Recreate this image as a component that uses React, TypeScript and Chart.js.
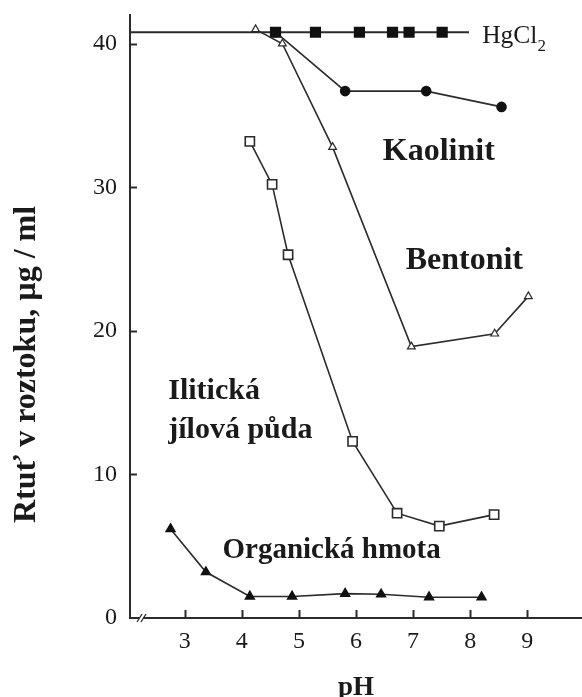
import React, { useEffect, useRef } from "react";
import { Chart, registerables } from "chart.js";

Chart.register(...registerables);

// ---------- data ----------
const xTickValues = [3, 4, 5, 6, 7, 8, 9];
const yTickValues = [0, 10, 20, 30, 40];

const hgPH = [2.04, 4.59, 5.29, 6.06, 6.64, 6.93, 7.51, 7.98];
const hgVal = [40.8, 40.8, 40.8, 40.8, 40.8, 40.8, 40.8, 40.8];

const kaolinitPH = [4.59, 5.81, 7.23, 8.55];
const kaolinitVal = [40.8, 36.7, 36.7, 35.6];

const bentonitPH = [4.24, 4.71, 5.59, 6.97, 8.43, 9.02];
const bentonitVal = [41.0, 40.0, 32.8, 18.9, 19.8, 22.4];

const iliticPH = [4.14, 4.53, 4.81, 5.94, 6.72, 7.46, 8.42];
const iliticVal = [33.2, 30.2, 25.3, 12.3, 7.3, 6.4, 7.2];

const organicPH = [2.75, 3.37, 4.14, 4.88, 5.81, 6.44, 7.28, 8.2];
const organicVal = [6.2, 3.2, 1.5, 1.5, 1.7, 1.65, 1.45, 1.45];

const xTitle = "pH";
const yTitle = "Rtuť v roztoku, µg / ml";

// series labels (text + anchor in data coordinates)
const seriesLabels = [
  { text: "Kaolinit", x: 6.47, y: 31.9, size: 32 },
  { text: "Bentonit", x: 6.87, y: 24.28, size: 32 },
  { text: "Ilitická", x: 2.71, y: 15.25, size: 30 },
  { text: "jílová půda", x: 2.71, y: 12.53, size: 30 },
  { text: "Organická hmota", x: 3.66, y: 4.18, size: 29 },
];
const hgLabel = { text: "HgCl", sub: "2", x: 8.21, y: 40.04 };

const SERIF = "'Liberation Serif', 'Times New Roman', serif";
const INK = "#1a1a1a";
const LINE = "#2b2b2b";

const zip = (xs: number[], ys: number[]) => xs.map((v, i) => ({ x: v, y: ys[i] }));

const overlay = {
  id: "overlay",
  afterDraw(chart: any) {
    const { ctx, chartArea, scales } = chart;
    const xs = scales.x;
    const ys = scales.y;
    ctx.save();
    ctx.strokeStyle = LINE;
    ctx.lineWidth = 2;
    // inward ticks
    xTickValues.forEach((v) => {
      const px = Math.round(xs.getPixelForValue(v)) + 0.5;
      ctx.beginPath();
      ctx.moveTo(px, chartArea.bottom);
      ctx.lineTo(px, chartArea.bottom - 8);
      ctx.stroke();
    });
    yTickValues.forEach((v) => {
      if (v === 0) return;
      const py = Math.round(ys.getPixelForValue(v)) + 0.5;
      ctx.beginPath();
      ctx.moveTo(chartArea.left, py);
      ctx.lineTo(chartArea.left + 7, py);
      ctx.stroke();
    });
    // axis break mark
    const bx = chartArea.left + 7;
    const by = chartArea.bottom;
    ctx.fillStyle = "#fff";
    ctx.fillRect(bx + 2, by - 2, 4, 4);
    ctx.lineWidth = 1.3;
    ctx.beginPath();
    ctx.moveTo(bx, by + 4);
    ctx.lineTo(bx + 5, by - 4);
    ctx.moveTo(bx + 4, by + 4);
    ctx.lineTo(bx + 9, by - 4);
    ctx.stroke();

    // series labels
    ctx.fillStyle = INK;
    ctx.textBaseline = "alphabetic";
    ctx.textAlign = "left";
    seriesLabels.forEach((l) => {
      ctx.font = `bold ${l.size}px ${SERIF}`;
      ctx.fillText(l.text, xs.getPixelForValue(l.x), ys.getPixelForValue(l.y));
    });
    // HgCl2
    const hx = xs.getPixelForValue(hgLabel.x);
    const hy = ys.getPixelForValue(hgLabel.y);
    ctx.font = `25.5px ${SERIF}`;
    ctx.fillText(hgLabel.text, hx, hy);
    const w = ctx.measureText(hgLabel.text).width;
    ctx.font = `17px ${SERIF}`;
    ctx.fillText(hgLabel.sub, hx + w, hy + 8);

    // y axis title
    ctx.translate(35, (chartArea.top + chartArea.bottom) / 2 + 48);
    ctx.rotate(-Math.PI / 2);
    ctx.textAlign = "center";
    ctx.font = `bold 32px ${SERIF}`;
    ctx.fillText(yTitle, 0, 0);
    ctx.restore();
  },
};

export default function App() {
  const ref = useRef<HTMLCanvasElement>(null);
  useEffect(() => {
    if (!ref.current) return;
    const common = {
      borderColor: LINE,
      borderWidth: 1.6,
      showLine: true,
      tension: 0,
    };
    const chart = new Chart(ref.current, {
      type: "scatter",
      data: {
        datasets: [
          {
            ...common,
            label: "HgCl2",
            data: zip(hgPH, hgVal),
            borderWidth: 2,
            pointStyle: "rect",
            pointRadius: (c: any) =>
              c.dataIndex === 0 || c.dataIndex === hgPH.length - 1 ? 0 : 6.5,
            backgroundColor: "#111",
            pointBorderColor: "#111",
            pointBackgroundColor: "#111",
          },
          {
            ...common,
            label: "Kaolinit",
            data: zip(kaolinitPH, kaolinitVal),
            pointStyle: "circle",
            pointRadius: 4.5,
            pointBackgroundColor: "#111",
            pointBorderColor: "#111",
          },
          {
            ...common,
            label: "Bentonit",
            data: zip(bentonitPH, bentonitVal),
            pointStyle: "triangle",
            pointRadius: 4.5,
            pointBorderWidth: 1.2,
            pointBackgroundColor: "#fff",
            pointBorderColor: LINE,
          },
          {
            ...common,
            label: "Ilitická jílová půda",
            data: zip(iliticPH, iliticVal),
            pointStyle: "rect",
            pointRadius: 6.5,
            pointBorderWidth: 1.6,
            pointBackgroundColor: "#fff",
            pointBorderColor: LINE,
          },
          {
            ...common,
            label: "Organická hmota",
            data: zip(organicPH, organicVal),
            pointStyle: "triangle",
            pointRadius: 5,
            pointBackgroundColor: "#111",
            pointBorderColor: "#111",
          },
        ],
      },
      options: {
        animation: false,
        responsive: false,
        maintainAspectRatio: false,
        layout: { autoPadding: false, padding: { top: 15, right: 0, left: 0, bottom: 0 } },
        plugins: {
          legend: { display: false },
          tooltip: { enabled: false },
        },
        scales: {
          x: {
            type: "linear",
            min: 2.04,
            max: 9.96,
            afterBuildTicks: (s: any) => {
              s.ticks = xTickValues.map((v) => ({ value: v }));
            },
            afterFit: (s: any) => {
              s.height = 79;
              s.paddingLeft = 0;
              s.paddingRight = 0;
            },
            grid: { display: false, drawTicks: false },
            border: { display: true, color: LINE, width: 2 },
            ticks: {
              padding: 9,
              color: INK,
              font: { family: SERIF, size: 24 },
              autoSkip: false,
              maxRotation: 0,
            },
            title: {
              display: true,
              text: xTitle,
              color: INK,
              font: { family: SERIF, size: 27, weight: "bold", lineHeight: 1 },
              padding: { top: 0, bottom: -5 },
            },
          },
          y: {
            type: "linear",
            min: 0,
            max: 42,
            afterBuildTicks: (s: any) => {
              s.ticks = yTickValues.map((v) => ({ value: v }));
            },
            afterFit: (s: any) => {
              s.width = 130;
              s.paddingTop = 0;
              s.paddingBottom = 0;
            },
            grid: { display: false, drawTicks: false },
            border: { display: true, color: LINE, width: 2 },
            ticks: {
              padding: 13,
              color: INK,
              font: { family: SERIF, size: 24 },
            },
          },
        },
      },
      plugins: [overlay],
    } as any);
    return () => chart.destroy();
  }, []);
  return (
    <div style={{ position: "fixed", left: 0, top: 0, width: 582, height: 697, background: "#fff" }}>
      <canvas ref={ref} width={582} height={697} style={{ width: 582, height: 697, display: "block" }} />
    </div>
  );
}
